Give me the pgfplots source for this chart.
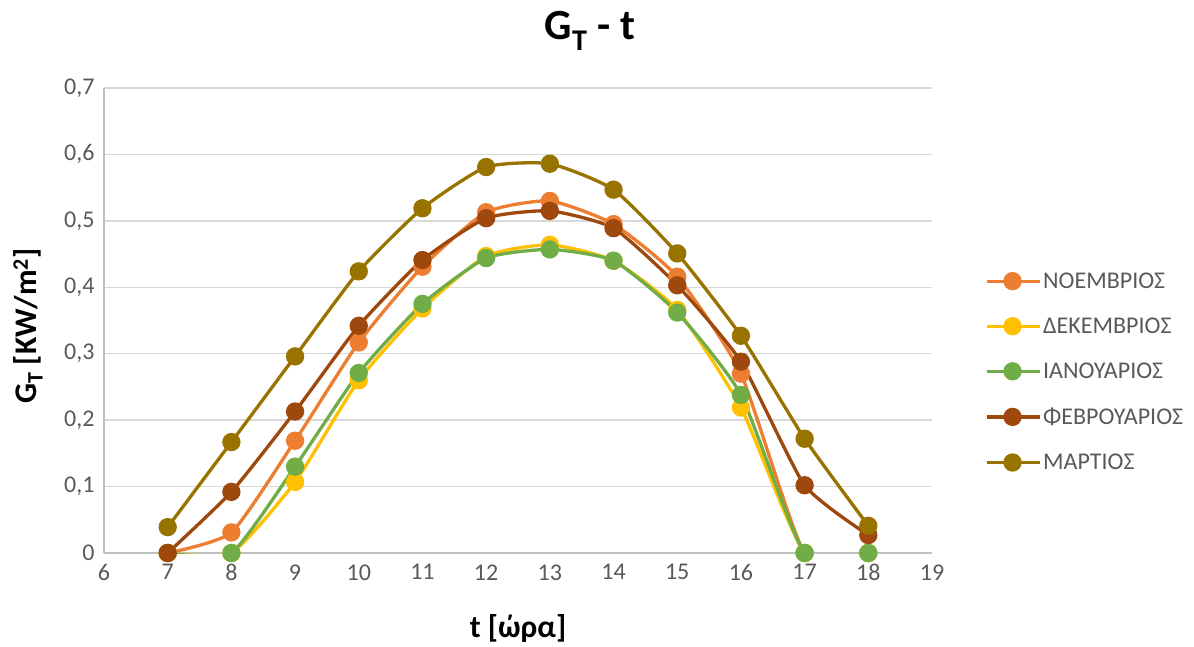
\documentclass[border=0pt]{standalone}
\usepackage{pgfplots}
\pgfplotsset{compat=1.18}
\usepackage{fontspec}
\setmainfont{Carlito}
\definecolor{cNo}{HTML}{ED7D31}
\definecolor{cDe}{HTML}{FFC000}
\definecolor{cIa}{HTML}{70AD47}
\definecolor{cFe}{HTML}{9E480E}
\definecolor{cMa}{HTML}{997300}
\definecolor{tickgray}{HTML}{595959}
\definecolor{gridgray}{HTML}{D9D9D9}
\definecolor{axgray}{HTML}{BFBFBF}
\begin{document}
\begin{tikzpicture}[x=1pt,y=1pt]
\path[use as bounding box] (0,0) rectangle (1194,646);
\begin{axis}[
  at={(104pt,93pt)}, anchor=south west,
  scale only axis, width=828pt, height=465pt,
  xmin=6, xmax=19, ymin=0, ymax=0.7,
  xtick={6,...,19}, ytick={0,0.1,...,0.7},
  major tick length=0pt,
  ymajorgrids, grid style={gridgray, line width=1.3pt},
  axis line style={axgray, line width=1.3pt},
  axis x line*=bottom, axis y line*=left,
  x axis line style={-}, y axis line style={-},
  tick label style={tickgray, font=\fontsize{24}{27}\selectfont},
  /pgf/number format/assume math mode=true,
  /pgf/number format/use comma,
  yticklabel style={/pgf/number format/fixed, /pgf/number format/precision=1, xshift=-6pt},
  xticklabel style={yshift=-8pt},
  every axis plot/.append style={line width=3.3pt, smooth, tension=0.33, mark=*, mark size=7.5pt, mark options={line width=0pt}},
  legend style={at={(rel axis cs:1.06,0.612)}, anchor=north west, draw=none, fill=none,
     font=\fontsize{24}{27}\selectfont, text=tickgray, row sep=24pt,
     /tikz/every even column/.append style={column sep=4pt}},
  legend cell align=left,
  legend image code/.code={\draw[mark repeat=2, mark phase=2, sharp plot] plot coordinates {(0pt,0pt) (26pt,0pt) (53pt,0pt)};},
]
\addplot[cNo, mark options={fill=cNo, draw=cNo}] coordinates {(7,0) (8,0.031) (9,0.169) (10,0.317) (11,0.431) (12,0.513) (13,0.530) (14,0.495) (15,0.416) (16,0.270) (17,0) (18,0)};
\addlegendentry{ΝΟΕΜΒΡΙΟΣ}
\addplot[cDe, mark options={fill=cDe, draw=cDe}] coordinates {(7,0) (8,0) (9,0.107) (10,0.260) (11,0.368) (12,0.447) (13,0.464) (14,0.440) (15,0.366) (16,0.219) (17,0) (18,0)};
\addlegendentry{ΔΕΚΕΜΒΡΙΟΣ}
\addplot[cIa, mark options={fill=cIa, draw=cIa}] coordinates {(7,0) (8,0) (9,0.130) (10,0.271) (11,0.375) (12,0.444) (13,0.457) (14,0.440) (15,0.362) (16,0.238) (17,0) (18,0)};
\addlegendentry{ΙΑΝΟΥΑΡΙΟΣ}
\addplot[cFe, mark options={fill=cFe, draw=cFe}] coordinates {(7,0) (8,0.092) (9,0.213) (10,0.342) (11,0.441) (12,0.504) (13,0.515) (14,0.489) (15,0.403) (16,0.288) (17,0.102) (18,0.027)};
\addlegendentry{ΦΕΒΡΟΥΑΡΙΟΣ}
\addplot[cMa, mark options={fill=cMa, draw=cMa}] coordinates {(7,0.039) (8,0.167) (9,0.296) (10,0.424) (11,0.519) (12,0.581) (13,0.586) (14,0.547) (15,0.451) (16,0.327) (17,0.172) (18,0.041)};
\addlegendentry{ΜΑΡΤΙΟΣ}
\end{axis}
\node at (590,615) {\fontsize{43}{48}\selectfont\bfseries G\textsubscript{T} - t};
\node at (518,18) {\fontsize{31.5}{36}\selectfont\bfseries t [ώρα]};
\node[rotate=90] at (28,320) {\fontsize{31.5}{36}\selectfont\bfseries G\textsubscript{T} [KW/m\textsuperscript{2}]};
\end{tikzpicture}
\end{document}
